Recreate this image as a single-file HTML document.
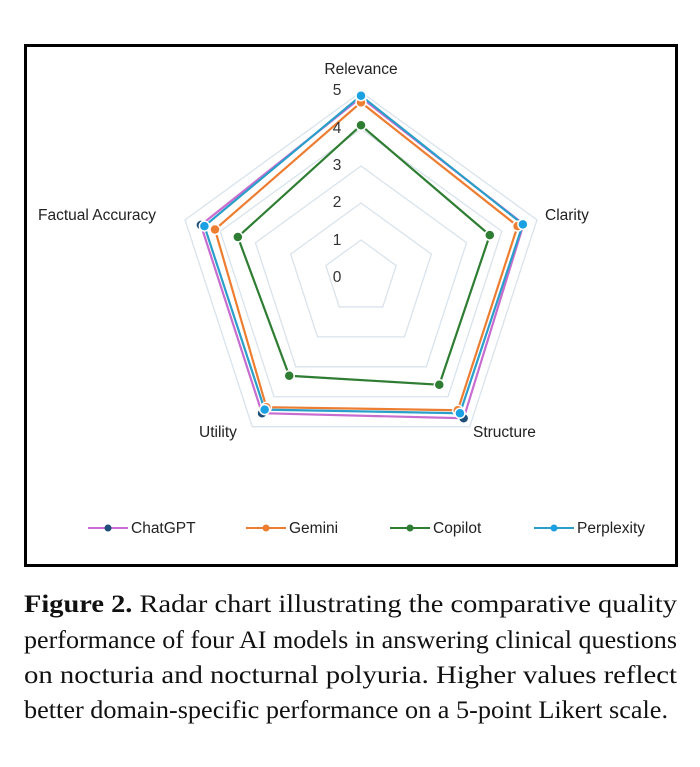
<!DOCTYPE html>
<html><head><meta charset="utf-8"><style>
html,body{margin:0;padding:0;background:#fff;width:700px;height:767px;overflow:hidden}
</style></head><body>
<svg id="s" width="700" height="767" xmlns="http://www.w3.org/2000/svg" font-family="Liberation Sans, sans-serif">
<rect x="25.5" y="45.5" width="651" height="520" fill="#fff" stroke="#000" stroke-width="3"/>
<g id="grid"></g>
<g id="series"></g>
<g font-size="15.5" fill="#222">
<text x="361" y="74" text-anchor="middle">Relevance</text>
<text x="545" y="220">Clarity</text>
<text x="473" y="437">Structure</text>
<text x="199" y="437">Utility</text>
<text x="38" y="220">Factual Accuracy</text>
</g>
<g font-size="15.5" fill="#333" text-anchor="middle">
<text x="337" y="95">5</text><text x="337" y="133">4</text><text x="337" y="170">3</text>
<text x="337" y="207">2</text><text x="337" y="245">1</text><text x="337" y="282">0</text>
</g>
<g font-size="15.5" fill="#222" id="leg"></g>
<g font-family="Liberation Serif, serif" font-size="25" fill="#111">
<text x="24" y="612" textLength="653" lengthAdjust="spacingAndGlyphs"><tspan font-weight="bold">Figure 2.</tspan> Radar chart illustrating the comparative quality</text>
<text x="24" y="648" textLength="653" lengthAdjust="spacingAndGlyphs">performance of four AI models in answering clinical questions</text>
<text x="24" y="683" textLength="653" lengthAdjust="spacingAndGlyphs">on nocturia and nocturnal polyuria. Higher values reflect</text>
<text x="24" y="718" textLength="644" lengthAdjust="spacingAndGlyphs">better domain-specific performance on a 5-point Likert scale.</text>
</g>
</svg>
<script>
var cx=361,cy=277,u=37;
function pt(i,v){var a=-Math.PI/2+i*2*Math.PI/5;return [cx+Math.cos(a)*v*u,cy+Math.sin(a)*v*u];}
var NS="http://www.w3.org/2000/svg";
function el(t,at,p){var e=document.createElementNS(NS,t);for(var k in at)e.setAttribute(k,at[k]);p.appendChild(e);return e;}
var g=document.getElementById('grid');
for(var l=1;l<=5;l++){var ps=[];for(var i=0;i<5;i++)ps.push(pt(i,l).join(','));
el('polygon',{points:ps.join(' '),fill:'none',stroke:'#d9e3ec','stroke-width':1.3},g);}
var S=[
{n:'ChatGPT',c:'#c86dd0',m:'#1f4e79',v:[4.85,4.62,4.72,4.55,4.55]},
{n:'Gemini',c:'#ed7d31',m:'#ed7d31',v:[4.72,4.45,4.45,4.35,4.15]},
{n:'Copilot',c:'#2e7d32',m:'#2e7d32',v:[4.1,3.66,3.6,3.3,3.5]},
{n:'Perplexity',c:'#2a9fc9',m:'#1ba1e2',v:[4.9,4.6,4.55,4.43,4.45]}];
var sg=document.getElementById('series');
S.forEach(function(s){var ps=s.v.map(function(v,i){return pt(i,v);});
el('polygon',{points:ps.map(function(p){return p.join(',')}).join(' '),fill:'none',stroke:s.c,'stroke-width':2.2},sg);});
S.forEach(function(s){s.v.forEach(function(v,i){var p=pt(i,v);
el('circle',{cx:p[0],cy:p[1],r:5,fill:s.m,stroke:'#fff','stroke-width':1.5},sg);});});
var lg=document.getElementById('leg');var xs=[88,246,390,534];
S.forEach(function(s,k){var x=xs[k],y=528;
el('line',{x1:x,y1:y,x2:x+40,y2:y,stroke:s.c,'stroke-width':2},lg);
el('circle',{cx:x+20,cy:y,r:3.5,fill:s.m},lg);
var t=el('text',{x:x+43,y:y+5},lg);t.textContent=s.n;});
</script>
</body></html>
